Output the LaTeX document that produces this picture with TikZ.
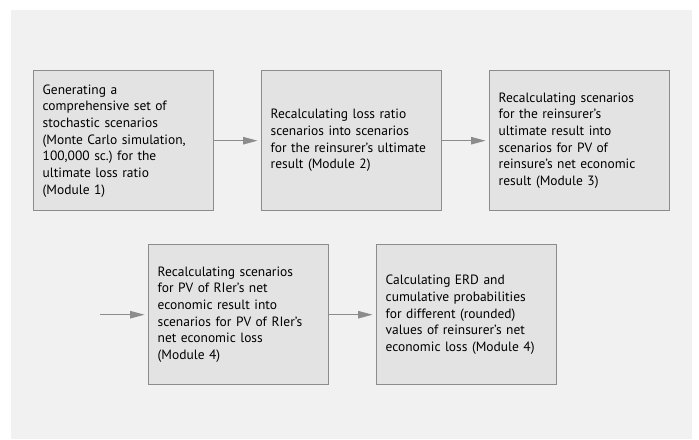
\documentclass[tikz,border=0pt]{standalone}
\usepackage{fontspec}
\setmainfont{PT Sans}
\usetikzlibrary{arrows.meta}
\definecolor{bgc}{HTML}{F1F1F1}
\definecolor{boxc}{HTML}{E3E3E3}
\definecolor{linec}{HTML}{8C8C8C}
\tikzset{
  stepbox/.style={draw=linec, line width=1.4pt*0.75, fill=boxc, minimum width=180*0.75pt, minimum height=140*0.75pt, text width=162*0.75pt, align=left, inner sep=0pt, font=\fontsize{10.1pt}{12.5pt}\selectfont, anchor=north west},
  flow/.style={draw=linec, line width=1.5pt*0.75, -{Triangle[length=11pt, width=5.5pt]}, shorten >=2.5pt}
}
\begin{document}
\begin{tikzpicture}[x=0.75pt, y=-0.75pt]
\useasboundingbox (0,0) rectangle (699,439);
\fill[bgc] (11,10) rectangle (692,439);
\node[stepbox] (m1) at (33,70) {Generating a\\comprehensive set of\\stochastic scenarios\\(Monte Carlo simulation,\\100,000 sc.)\ for the\\ultimate loss ratio\\(Module 1)};
\node[stepbox] (m2) at (261,70) {Recalculating loss ratio\\scenarios into scenarios\\for the reinsurer’s ultimate\\result (Module 2)};
\node[stepbox] (m3) at (489,70) {Recalculating scenarios\\for the reinsurer’s\\ultimate result into\\scenarios for PV of\\reinsure’s net economic\\result (Module 3)\par\vspace{13pt}};
\node[stepbox] (m4) at (148,244) {Recalculating scenarios\\for PV of RIer’s net\\economic result into\\scenarios for PV of RIer’s\\net economic loss\\(Module 4)};
\node[stepbox] (m5) at (376,244) {Calculating ERD and\\cumulative probabilities\\for different (rounded)\\values of reinsurer’s net\\economic loss (Module 4)};
\coordinate (in4) at (100,0 |- m4.west);
\draw[flow] (m1) -- (m2);
\draw[flow] (m2) -- (m3);
\draw[flow] (in4) -- (m4);
\draw[flow] (m4) -- (m5);
\end{tikzpicture}
\end{document}
